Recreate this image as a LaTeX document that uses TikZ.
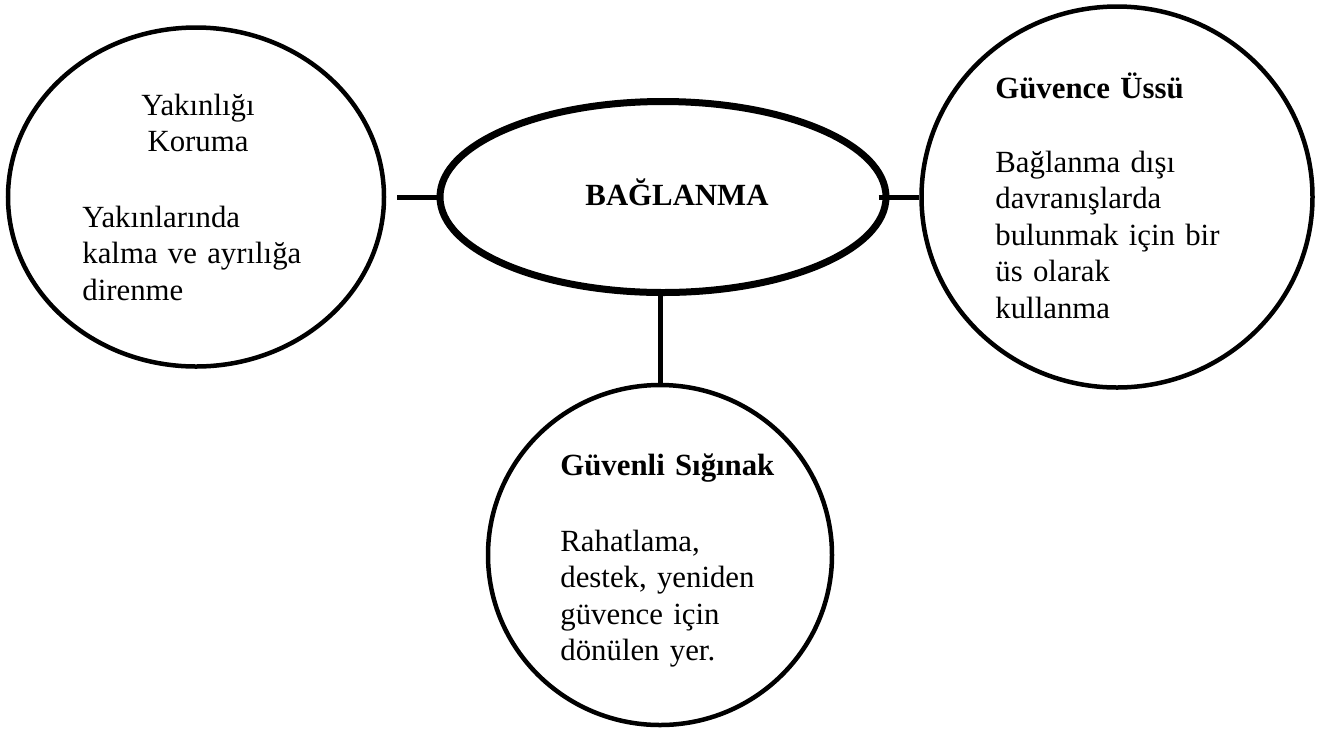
\documentclass[tikz,border=0pt]{standalone}
\usepackage{fontspec}
\setmainfont{Liberation Serif}
\usetikzlibrary{shapes.geometric}
\begin{document}
\begin{tikzpicture}[x=0.5pt,y=-0.5pt,
    every node/.style={font=\fontsize{15.4pt}{18.3pt}\selectfont},
    bubble/.style={draw,ellipse,line width=2.25pt,inner sep=0pt},
    head/.style={font=\fontsize{15.4pt}{18.3pt}\selectfont\bfseries,inner sep=0pt},
    body/.style={text width=#1,align=left,inner sep=0pt,anchor=base west}]
      \useasboundingbox (0,0) rectangle (1323,730);
      \draw
        (196,197) node[bubble,minimum width=188pt,minimum height=169.5pt] (prox) {}
        (663,197) node[bubble,line width=3.5pt,minimum width=223pt,minimum height=95.5pt] (bag) {}
        (1117,197) node[bubble,minimum width=195.5pt,minimum height=190.5pt] (secure) {}
        (660,555) node[bubble,minimum width=172pt,minimum height=170pt] (haven) {};
      \draw
        (198,115) node[inner sep=0pt,text width=100pt,align=center,anchor=base] (proxtitle) {Yakınlığı\\Koruma}
        (82,227) node[body=120pt] (proxtext) {Yakınlarında\\kalma ve ayrılığa\\direnme}
        (677,205) node[head,anchor=base] (bagtitle) {BAĞLANMA}
        (995,98) node[head,body=130pt] (securetitle) {Güvence Üssü}
        (995,172) node[body=130pt] (securetext) {Bağlanma dışı\\davranışlarda\\bulunmak için bir\\üs olarak\\kullanma}
        (560,475) node[head,body=130pt] (haventitle) {Güvenli Sığınak}
        (560,551) node[body=130pt] (haventext) {Rahatlama,\\destek, yeniden\\güvence için\\dönülen yer.};
      \draw[line width=2.5pt]
        (prox) edge[shorten <=5.5pt] (bag)
        (bag) edge[shorten <=-5.5pt] (secure)
        (haven.north) -- (haven.north |- bag.south);
    \end{tikzpicture}
\end{document}
